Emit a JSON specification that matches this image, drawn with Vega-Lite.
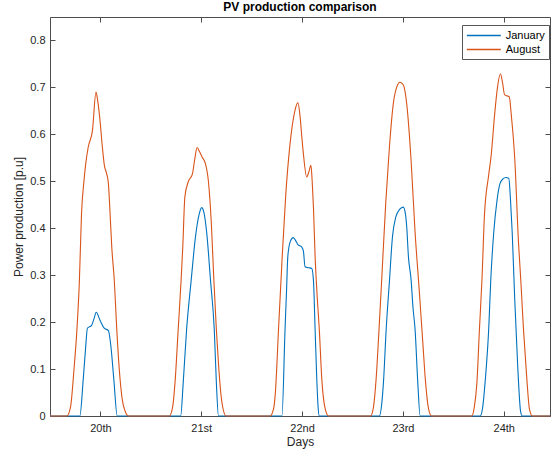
{
  "$schema": "https://vega.github.io/schema/vega-lite/v6.json",
  "width": 500,
  "height": 399,
  "autosize": {"type": "none"},
  "padding": {"left": 50, "top": 17, "right": 1, "bottom": 37},
  "background": "white",
  "title": {"text": "PV production comparison", "fontSize": 12, "fontWeight": "bold", "font": "Liberation Sans", "color": "#000000", "anchor": "middle", "offset": 3},
  "config": {
    "font": "Liberation Sans",
    "view": {"stroke": null},
    "axis": {"grid": false, "domainColor": "#4d4d4d", "domainWidth": 1, "tickColor": "#4d4d4d", "tickSize": -5, "tickWidth": 1, "labelFontSize": 11, "labelColor": "#262626", "titleFontSize": 12, "titleColor": "#262626", "titleFontWeight": "normal", "labelFont": "Liberation Sans", "titleFont": "Liberation Sans"}
  },
  "datasets": {
    "pv": [
      {"h": 0, "v": 0, "s": "January"},
      {"h": 7.1, "v": 0, "s": "January"},
      {"h": 7.9, "v": 0.077, "s": "January"},
      {"h": 8.5, "v": 0.148, "s": "January"},
      {"h": 8.9, "v": 0.187, "s": "January"},
      {"h": 9.9, "v": 0.193, "s": "January"},
      {"h": 10.5, "v": 0.208, "s": "January"},
      {"h": 11.0, "v": 0.221, "s": "January"},
      {"h": 11.9, "v": 0.204, "s": "January"},
      {"h": 12.9, "v": 0.187, "s": "January"},
      {"h": 13.9, "v": 0.182, "s": "January"},
      {"h": 14.5, "v": 0.148, "s": "January"},
      {"h": 15.2, "v": 0.077, "s": "January"},
      {"h": 16.0, "v": 0, "s": "January"},
      {"h": 31.1, "v": 0, "s": "January"},
      {"h": 31.7, "v": 0.07, "s": "January"},
      {"h": 32.5, "v": 0.183, "s": "January"},
      {"h": 33.6, "v": 0.289, "s": "January"},
      {"h": 34.6, "v": 0.38, "s": "January"},
      {"h": 35.5, "v": 0.43, "s": "January"},
      {"h": 36.1, "v": 0.444, "s": "January"},
      {"h": 36.6, "v": 0.435, "s": "January"},
      {"h": 37.3, "v": 0.39, "s": "January"},
      {"h": 38.2, "v": 0.289, "s": "January"},
      {"h": 39.1, "v": 0.183, "s": "January"},
      {"h": 39.6, "v": 0.07, "s": "January"},
      {"h": 40.1, "v": 0, "s": "January"},
      {"h": 55.2, "v": 0, "s": "January"},
      {"h": 55.95, "v": 0.187, "s": "January"},
      {"h": 56.3, "v": 0.268, "s": "January"},
      {"h": 56.6, "v": 0.34, "s": "January"},
      {"h": 57.2, "v": 0.372, "s": "January"},
      {"h": 57.9, "v": 0.38, "s": "January"},
      {"h": 58.5, "v": 0.373, "s": "January"},
      {"h": 59.0, "v": 0.365, "s": "January"},
      {"h": 59.9, "v": 0.36, "s": "January"},
      {"h": 60.3, "v": 0.352, "s": "January"},
      {"h": 60.7, "v": 0.318, "s": "January"},
      {"h": 61.5, "v": 0.316, "s": "January"},
      {"h": 62.3, "v": 0.314, "s": "January"},
      {"h": 62.7, "v": 0.289, "s": "January"},
      {"h": 63.1, "v": 0.183, "s": "January"},
      {"h": 63.5, "v": 0.077, "s": "January"},
      {"h": 63.8, "v": 0.02, "s": "January"},
      {"h": 64.1, "v": 0, "s": "January"},
      {"h": 78.4, "v": 0, "s": "January"},
      {"h": 79.0, "v": 0.03, "s": "January"},
      {"h": 79.4, "v": 0.077, "s": "January"},
      {"h": 80.0, "v": 0.183, "s": "January"},
      {"h": 80.8, "v": 0.289, "s": "January"},
      {"h": 81.5, "v": 0.381, "s": "January"},
      {"h": 82.3, "v": 0.424, "s": "January"},
      {"h": 83.2, "v": 0.44, "s": "January"},
      {"h": 84.1, "v": 0.445, "s": "January"},
      {"h": 84.6, "v": 0.43, "s": "January"},
      {"h": 84.9, "v": 0.403, "s": "January"},
      {"h": 85.3, "v": 0.34, "s": "January"},
      {"h": 85.95, "v": 0.289, "s": "January"},
      {"h": 86.4, "v": 0.23, "s": "January"},
      {"h": 86.9, "v": 0.183, "s": "January"},
      {"h": 87.5, "v": 0.077, "s": "January"},
      {"h": 88.1, "v": 0, "s": "January"},
      {"h": 102.4, "v": 0, "s": "January"},
      {"h": 103.0, "v": 0.02, "s": "January"},
      {"h": 103.6, "v": 0.077, "s": "January"},
      {"h": 104.4, "v": 0.183, "s": "January"},
      {"h": 104.9, "v": 0.289, "s": "January"},
      {"h": 105.6, "v": 0.39, "s": "January"},
      {"h": 106.4, "v": 0.46, "s": "January"},
      {"h": 107.1, "v": 0.495, "s": "January"},
      {"h": 107.8, "v": 0.505, "s": "January"},
      {"h": 108.5, "v": 0.508, "s": "January"},
      {"h": 109.2, "v": 0.506, "s": "January"},
      {"h": 109.6, "v": 0.46, "s": "January"},
      {"h": 110.0, "v": 0.392, "s": "January"},
      {"h": 110.6, "v": 0.25, "s": "January"},
      {"h": 111.3, "v": 0.109, "s": "January"},
      {"h": 112.0, "v": 0.01, "s": "January"},
      {"h": 112.4, "v": 0, "s": "January"},
      {"h": 119, "v": 0, "s": "January"},
      {"h": 0, "v": 0, "s": "August"},
      {"h": 4.0, "v": 0, "s": "August"},
      {"h": 4.9, "v": 0.02, "s": "August"},
      {"h": 5.7, "v": 0.098, "s": "August"},
      {"h": 6.4, "v": 0.183, "s": "August"},
      {"h": 7.0, "v": 0.289, "s": "August"},
      {"h": 7.5, "v": 0.431, "s": "August"},
      {"h": 8.1, "v": 0.502, "s": "August"},
      {"h": 8.5, "v": 0.537, "s": "August"},
      {"h": 9.1, "v": 0.573, "s": "August"},
      {"h": 10.1, "v": 0.608, "s": "August"},
      {"h": 10.95, "v": 0.69, "s": "August"},
      {"h": 11.35, "v": 0.672, "s": "August"},
      {"h": 11.9, "v": 0.63, "s": "August"},
      {"h": 12.46, "v": 0.573, "s": "August"},
      {"h": 12.94, "v": 0.534, "s": "August"},
      {"h": 13.49, "v": 0.516, "s": "August"},
      {"h": 13.9, "v": 0.495, "s": "August"},
      {"h": 14.3, "v": 0.431, "s": "August"},
      {"h": 14.7, "v": 0.36, "s": "August"},
      {"h": 15.3, "v": 0.289, "s": "August"},
      {"h": 15.9, "v": 0.183, "s": "August"},
      {"h": 16.5, "v": 0.098, "s": "August"},
      {"h": 17.2, "v": 0.035, "s": "August"},
      {"h": 17.9, "v": 0.01, "s": "August"},
      {"h": 18.6, "v": 0, "s": "August"},
      {"h": 28.4, "v": 0, "s": "August"},
      {"h": 29.2, "v": 0.02, "s": "August"},
      {"h": 29.8, "v": 0.077, "s": "August"},
      {"h": 30.5, "v": 0.183, "s": "August"},
      {"h": 31.2, "v": 0.289, "s": "August"},
      {"h": 31.6, "v": 0.36, "s": "August"},
      {"h": 32.1, "v": 0.467, "s": "August"},
      {"h": 32.9, "v": 0.499, "s": "August"},
      {"h": 33.9, "v": 0.516, "s": "August"},
      {"h": 34.5, "v": 0.55, "s": "August"},
      {"h": 35.0, "v": 0.572, "s": "August"},
      {"h": 35.6, "v": 0.563, "s": "August"},
      {"h": 36.3, "v": 0.55, "s": "August"},
      {"h": 36.9, "v": 0.54, "s": "August"},
      {"h": 37.7, "v": 0.5, "s": "August"},
      {"h": 38.4, "v": 0.41, "s": "August"},
      {"h": 39.0, "v": 0.289, "s": "August"},
      {"h": 39.6, "v": 0.183, "s": "August"},
      {"h": 40.2, "v": 0.098, "s": "August"},
      {"h": 40.9, "v": 0.03, "s": "August"},
      {"h": 41.9, "v": 0, "s": "August"},
      {"h": 52.4, "v": 0, "s": "August"},
      {"h": 53.2, "v": 0.015, "s": "August"},
      {"h": 53.6, "v": 0.045, "s": "August"},
      {"h": 54.4, "v": 0.187, "s": "August"},
      {"h": 55.2, "v": 0.328, "s": "August"},
      {"h": 56.1, "v": 0.47, "s": "August"},
      {"h": 57.1, "v": 0.577, "s": "August"},
      {"h": 58.2, "v": 0.647, "s": "August"},
      {"h": 59.0, "v": 0.667, "s": "August"},
      {"h": 59.5, "v": 0.64, "s": "August"},
      {"h": 59.9, "v": 0.598, "s": "August"},
      {"h": 60.3, "v": 0.559, "s": "August"},
      {"h": 61.1, "v": 0.509, "s": "August"},
      {"h": 61.6, "v": 0.52, "s": "August"},
      {"h": 62.1, "v": 0.534, "s": "August"},
      {"h": 62.4, "v": 0.5, "s": "August"},
      {"h": 62.7, "v": 0.445, "s": "August"},
      {"h": 63.1, "v": 0.339, "s": "August"},
      {"h": 63.5, "v": 0.268, "s": "August"},
      {"h": 64.1, "v": 0.183, "s": "August"},
      {"h": 64.7, "v": 0.077, "s": "August"},
      {"h": 65.5, "v": 0.015, "s": "August"},
      {"h": 66.3, "v": 0, "s": "August"},
      {"h": 76.3, "v": 0, "s": "August"},
      {"h": 77.0, "v": 0.02, "s": "August"},
      {"h": 77.6, "v": 0.077, "s": "August"},
      {"h": 78.3, "v": 0.183, "s": "August"},
      {"h": 79.0, "v": 0.3, "s": "August"},
      {"h": 79.9, "v": 0.453, "s": "August"},
      {"h": 80.8, "v": 0.575, "s": "August"},
      {"h": 81.7, "v": 0.665, "s": "August"},
      {"h": 82.5, "v": 0.7, "s": "August"},
      {"h": 83.3, "v": 0.711, "s": "August"},
      {"h": 84.1, "v": 0.705, "s": "August"},
      {"h": 84.9, "v": 0.665, "s": "August"},
      {"h": 85.9, "v": 0.55, "s": "August"},
      {"h": 86.9, "v": 0.39, "s": "August"},
      {"h": 87.9, "v": 0.265, "s": "August"},
      {"h": 88.7, "v": 0.16, "s": "August"},
      {"h": 89.4, "v": 0.07, "s": "August"},
      {"h": 90.1, "v": 0.015, "s": "August"},
      {"h": 90.8, "v": 0, "s": "August"},
      {"h": 100.4, "v": 0, "s": "August"},
      {"h": 101.0, "v": 0.02, "s": "August"},
      {"h": 101.6, "v": 0.07, "s": "August"},
      {"h": 102.2, "v": 0.183, "s": "August"},
      {"h": 102.8, "v": 0.289, "s": "August"},
      {"h": 103.4, "v": 0.428, "s": "August"},
      {"h": 104.4, "v": 0.513, "s": "August"},
      {"h": 105.0, "v": 0.555, "s": "August"},
      {"h": 105.8, "v": 0.64, "s": "August"},
      {"h": 106.5, "v": 0.7, "s": "August"},
      {"h": 107.2, "v": 0.729, "s": "August"},
      {"h": 107.7, "v": 0.71, "s": "August"},
      {"h": 108.2, "v": 0.684, "s": "August"},
      {"h": 109.3, "v": 0.68, "s": "August"},
      {"h": 109.8, "v": 0.64, "s": "August"},
      {"h": 110.6, "v": 0.55, "s": "August"},
      {"h": 111.5, "v": 0.37, "s": "August"},
      {"h": 112.05, "v": 0.289, "s": "August"},
      {"h": 112.7, "v": 0.183, "s": "August"},
      {"h": 113.5, "v": 0.077, "s": "August"},
      {"h": 114.1, "v": 0.015, "s": "August"},
      {"h": 114.8, "v": 0, "s": "August"},
      {"h": 119, "v": 0, "s": "August"}
    ]
  },
  "data": {"name": "pv"},
  "layer": [
    {
      "mark": {"type": "line", "strokeWidth": 1.1, "interpolate": "monotone"},
      "encoding": {
        "x": {"field": "h", "type": "quantitative", "scale": {"domain": [0, 119], "nice": false, "zero": false},
          "axis": {"orient": "bottom", "values": [12, 36, 60, 84, 108], "labelExpr": "['20th','21st','22nd','23rd','24th'][round((datum.value-12)/24)]", "labelPadding": 11, "title": "Days", "titlePadding": 3}},
        "y": {"field": "v", "type": "quantitative", "scale": {"domain": [0, 0.85], "nice": false, "zero": false},
          "axis": {"orient": "left", "values": [0, 0.1, 0.2, 0.3, 0.4, 0.5, 0.6, 0.7, 0.8], "format": ".1~f", "labelPadding": 10, "title": "Power production [p.u]", "titlePadding": 4}},
        "color": {"field": "s", "type": "nominal", "sort": ["January", "August"],
          "scale": {"domain": ["January", "August"], "range": ["#0072BD", "#D95319"]},
          "legend": {"title": null, "orient": "none", "legendX": 412, "legendY": 8, "symbolType": "M-3,0H3", "symbolSize": 128, "symbolOffset": 11.3, "symbolStrokeWidth": 1.5, "labelFontSize": 11, "labelColor": "#000000", "labelOffset": 15.4, "padding": 4, "rowPadding": 2, "fillColor": "white", "strokeColor": "#555555", "labelFont": "Liberation Sans"}}
      }
    },
    {
      "mark": {"type": "line", "opacity": 0},
      "encoding": {
        "x": {"field": "h", "type": "quantitative", "axis": {"orient": "top", "values": [12, 36, 60, 84, 108], "labels": false, "title": null}},
        "y": {"field": "v", "type": "quantitative", "axis": {"orient": "right", "values": [0, 0.1, 0.2, 0.3, 0.4, 0.5, 0.6, 0.7, 0.8], "labels": false, "title": null}},
        "detail": {"field": "s"}
      }
    }
  ],
  "resolve": {"axis": {"x": "independent", "y": "independent"}}
}
